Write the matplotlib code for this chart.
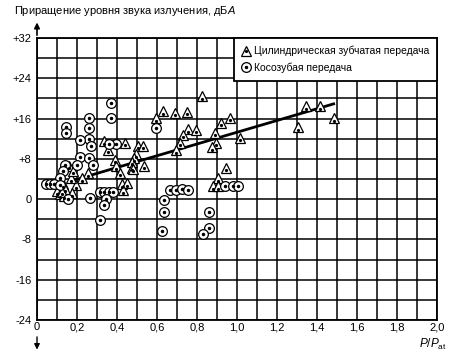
import matplotlib
matplotlib.use("Agg")
import matplotlib.pyplot as plt
from matplotlib.lines import Line2D

plt.rcParams["font.family"] = ["Liberation Sans", "DejaVu Sans"]
plt.rcParams["mathtext.fontset"] = "custom"
plt.rcParams["mathtext.rm"] = "Liberation Sans"
plt.rcParams["mathtext.it"] = "Liberation Sans:italic"

# spur gears (triangles)
spur_x = [0.823, 0.632, 0.690, 0.748, 0.595, 0.965, 0.918, 0.757, 0.795, 0.732,
          0.892, 1.015, 0.715, 0.897, 0.873, 0.695, 0.945, 0.907, 0.882, 0.907,
          1.345, 1.415, 1.487, 1.305, 0.335, 0.442, 0.503, 0.532, 0.357, 0.497,
          0.487, 0.390, 0.475, 0.537, 0.395, 0.475, 0.417, 0.423, 0.452, 0.430,
          0.253, 0.223, 0.195, 0.172, 0.162, 0.182, 0.132, 0.140, 0.098, 0.115,
          0.135, 0.173, 0.123, 0.478]
spur_y = [20.4, 17.5, 17.2, 17.4, 16.1, 16.2, 15.2, 13.9, 13.8, 12.8,
          13.2, 12.2, 11.2, 11.2, 10.3, 9.7, 6.2, 4.2, 2.6, 2.6,
          18.4, 18.4, 16.1, 14.3, 11.5, 11.2, 10.6, 10.6, 9.8, 8.9,
          8.1, 7.8, 7.4, 6.6, 6.5, 6.2, 5.2, 3.0, 3.2, 1.8,
          5.1, 4.1, 2.8, 4.2, 6.6, 5.6, 3.0, 2.1, 1.6, 1.0,
          0.7, 1.2, 1.5, 6.0]

# helical gears (circles)
helical_x = [0.370, 0.370, 0.258, 0.147, 0.145, 0.258, 0.258, 0.217, 0.270, 0.397,
             0.360, 0.593, 0.217, 0.260, 0.280, 0.198, 0.142, 0.128, 0.117, 0.043,
             0.063, 0.085, 0.113, 0.155, 0.265, 0.315, 0.337, 0.358, 0.382, 0.345,
             0.337, 0.315, 0.665, 0.695, 0.727, 0.757, 0.635, 0.635, 0.627, 0.860,
             0.860, 0.832, 0.940, 0.982, 1.007]
helical_y = [19.0, 16.1, 16.2, 14.4, 13.1, 14.1, 12.0, 11.8, 10.6, 11.0,
             10.9, 14.1, 8.4, 8.1, 6.8, 6.7, 6.8, 5.5, 4.2, 3.0,
             3.0, 3.0, 2.9, 0.0, 0.2, 1.4, 1.4, 1.5, 1.5, 0.0,
             -1.2, -4.2, 1.8, 1.8, 2.0, 1.85, -0.2, -2.6, -6.3, -2.5,
             -5.8, -6.9, 2.6, 2.6, 2.6]

# trend line end points
trend_x = [0.17, 1.49]
trend_y = [3.6, 19.0]

x_ticks = [i / 10 for i in range(0, 21)]
x_labels = ["0", "", "0,2", "", "0,4", "", "0,6", "", "0,8", "", "1,0", "",
            "1,2", "", "1,4", "", "1,6", "", "1,8", "", "2,0"]
y_ticks = list(range(-24, 33, 4))
y_labels = ["-24", "", "-16", "", "-8", "", "0", "", "+8", "", "+16", "",
            "+24", "", "+32"]

fig = plt.figure(figsize=(4.67, 3.57), dpi=100)
ax = fig.add_axes([37 / 467, 1 - 320 / 357, 400 / 467, 282 / 357])

ax.set_xlim(0, 2.0)
ax.set_ylim(-24, 32)
ax.set_xticks(x_ticks)
ax.set_xticklabels(x_labels, fontsize=8)
ax.set_yticks(y_ticks)
ax.set_yticklabels(y_labels, fontsize=8)
ax.tick_params(axis="y", length=0, pad=4)
ax.tick_params(axis="x", length=0, pad=1.5)
ax.grid(True, color="black", linewidth=1.1)
ax.set_axisbelow(True)
for s in ax.spines.values():
    s.set_linewidth(1.3)

ax.plot(trend_x, trend_y, color="black", linewidth=2.0, zorder=3,
        solid_capstyle="butt")

mk = dict(linestyle="none", markerfacecolor="white", markeredgecolor="black",
          markeredgewidth=0.9, zorder=4)
ax.plot(spur_x, spur_y, marker="^", markersize=6.5, **mk)
ax.plot(spur_x, [v - 0.5 for v in spur_y], linestyle="none", marker="o",
        markersize=1.3, color="black", zorder=5)
ax.plot(helical_x, helical_y, marker="o", markersize=7, **mk)
ax.plot(helical_x, helical_y, linestyle="none", marker="o", markersize=1.5,
        color="black", zorder=5)

h_tri = (Line2D([], [], marker="^", markersize=6.5, **mk),
         Line2D([], [], linestyle="none", marker="o", markersize=1.3, color="black"))
h_cir = (Line2D([], [], marker="o", markersize=7, **mk),
         Line2D([], [], linestyle="none", marker="o", markersize=1.5, color="black"))
leg = ax.legend([h_tri, h_cir],
                ["Цилиндрическая зубчатая передача", "Косозубая передача"],
                loc="upper right", bbox_to_anchor=(1.0, 1.0), borderaxespad=0,
                fontsize=7.5, frameon=True, fancybox=False, framealpha=1,
                edgecolor="black", handlelength=0.8, handletextpad=0.4,
                borderpad=0.75, labelspacing=0.6)
leg.get_frame().set_linewidth(1.3)
leg.set_zorder(10)

ax.annotate("", xy=(0, 1.065), xytext=(0, 1.0), xycoords="axes fraction",
            arrowprops=dict(arrowstyle="-|>", color="black", lw=1.2,
                            mutation_scale=8), annotation_clip=False)
ax.annotate("", xy=(0, -0.115), xytext=(0, -0.05), xycoords="axes fraction",
            arrowprops=dict(arrowstyle="-|>", color="black", lw=1.0,
                            mutation_scale=8), annotation_clip=False)

fig.text(14 / 467, 1 - 11 / 357, "Приращение уровня звука излучения, дБ$\\it{А}$",
         fontsize=8, ha="left", va="center")
ax.text(1.025, -0.085, "$\\it{P/P}_{\\rm at}$", transform=ax.transAxes,
        fontsize=8.5, ha="right", va="center")

fig.savefig("out.png", dpi=100)
